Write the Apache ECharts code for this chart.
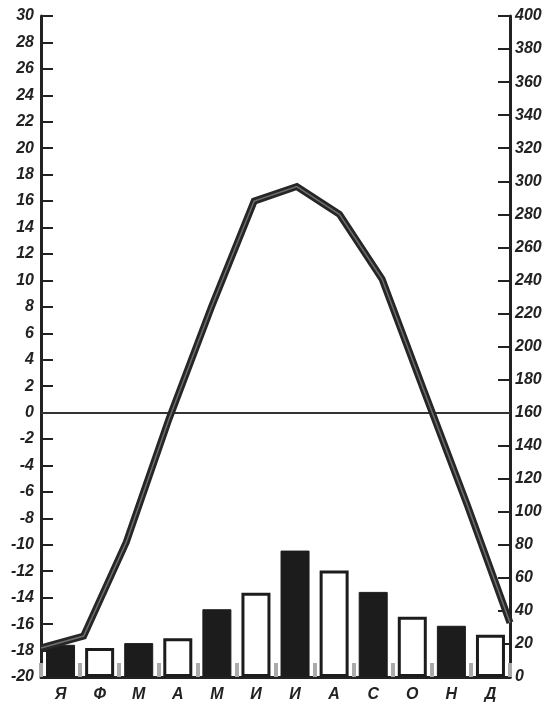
<!DOCTYPE html>
<html>
<head>
<meta charset="utf-8">
<script src="https://cdn.jsdelivr.net/npm/echarts@6/dist/echarts.min.js"></script>
<style>
html,body{margin:0;padding:0;background:#fff;}
#c{width:545px;height:708px;}
</style>
</head>
<body>
<div id="c"></div>
<script>
var months = ['Я','Ф','М','А','М','И','И','А','С','О','Н','Д'];
var precipitation = [19.5, 17.5, 20.5, 23.5, 41, 51, 76.5, 64.5, 51.5, 36.5, 31, 25.5];
var temperature = [-17.8, -16.9, -9.8, -0.5, 8, 16, 17.1, 15, 10.1, 1.5, -7, -15.9];
var tempTicks = {min: -20, max: 30, interval: 2};
var precTicks = {min: 0, max: 400, interval: 20};

var ink = '#222';
var font = {fontFamily: 'Liberation Sans Narrow, Liberation Sans, Arial', fontWeight: 'bold', fontStyle: 'italic', fontSize: 16, color: ink};

var chart = echarts.init(document.getElementById('c'), null, {renderer: 'canvas'});
var barData = precipitation.map(function (v, i) {
  return {
    value: v,
    itemStyle: i % 2 === 0
      ? {color: '#1c1c1c', borderColor: '#1c1c1c', borderWidth: 1}
      : {color: '#ffffff', borderColor: '#1c1c1c', borderWidth: 3}
  };
});

chart.setOption({
  animation: false,
  backgroundColor: '#fff',
  grid: {left: 41, right: 35, top: 16, bottom: 31},
  xAxis: [
    {
      type: 'category', data: months, boundaryGap: true,
      axisLine: {show: true, onZero: false, lineStyle: {color: ink, width: 3}},
      axisTick: {show: true, inside: true, length: 14, alignWithLabel: false, lineStyle: {color: '#aaa', width: 4}},
      axisLabel: Object.assign({margin: 10}, font),
      splitLine: {show: false}
    },
    {
      type: 'category', data: months, boundaryGap: false, show: false
    }
  ],
  yAxis: [
    {
      type: 'value', position: 'left', min: tempTicks.min, max: tempTicks.max, interval: tempTicks.interval,
      axisLine: {show: true, lineStyle: {color: ink, width: 3}},
      axisTick: {show: true, inside: true, length: 12, lineStyle: {color: ink, width: 2}},
      axisLabel: Object.assign({margin: 7}, font),
      splitLine: {show: false}
    },
    {
      type: 'value', position: 'right', min: precTicks.min, max: precTicks.max, interval: precTicks.interval,
      axisLine: {show: true, lineStyle: {color: ink, width: 3}},
      axisTick: {show: true, inside: true, length: 12, lineStyle: {color: ink, width: 2}},
      axisLabel: Object.assign({margin: 5}, font),
      splitLine: {show: false}
    }
  ],
  series: [
    {
      type: 'bar', xAxisIndex: 0, yAxisIndex: 1, data: barData, barWidth: 29, z: 2
    },
    {
      type: 'line', xAxisIndex: 1, yAxisIndex: 0, data: temperature,
      symbol: 'none', z: 3, silent: true,
      lineStyle: {color: '#262626', width: 7, join: 'miter'},
      markLine: {
        silent: true, symbol: 'none', label: {show: false}, z: 1,
        lineStyle: {color: '#333', width: 2, type: 'solid'},
        data: [{yAxis: 0}]
      }
    },
    {
      type: 'line', xAxisIndex: 1, yAxisIndex: 0, data: temperature,
      symbol: 'none', z: 4, silent: true,
      lineStyle: {color: '#6e6e6e', width: 1.5, join: 'miter'}
    }
  ]
});
</script>
</body>
</html>
